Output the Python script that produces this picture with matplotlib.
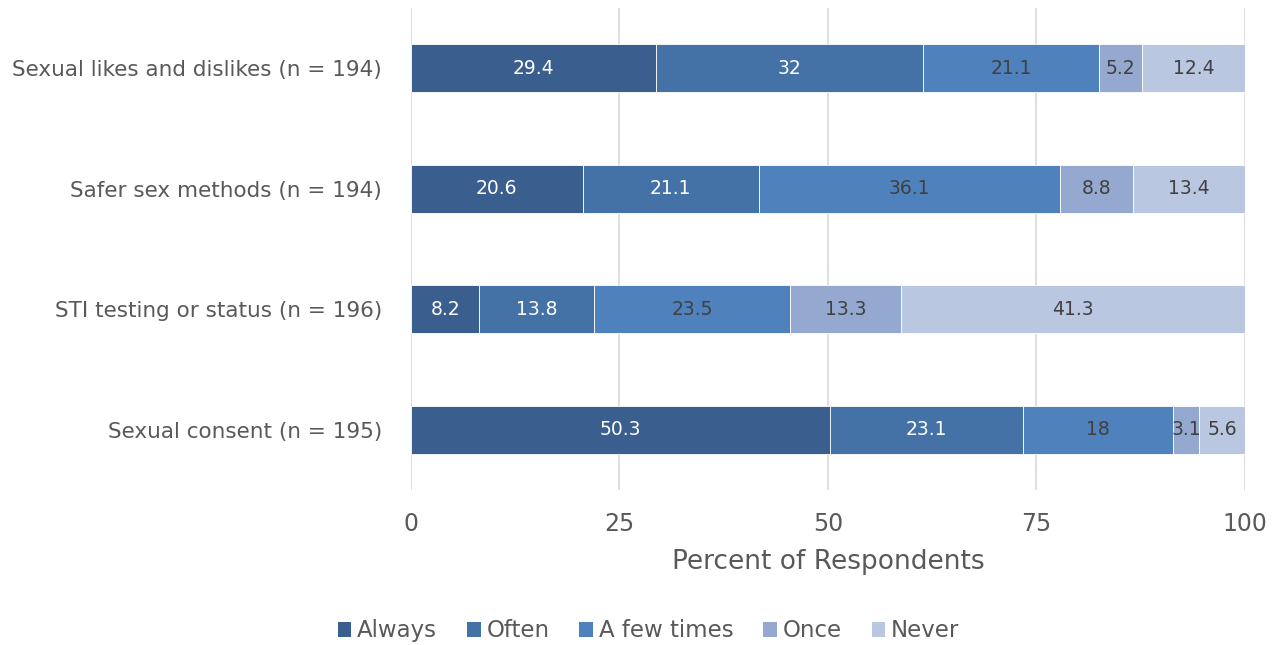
import matplotlib.pyplot as plt
from matplotlib.patches import Patch

plt.rcParams['font.family'] = 'DejaVu Sans'

categories = ["Sexual likes and dislikes (n = 194)", "Safer sex methods (n = 194)",
              "STI testing or status (n = 196)", "Sexual consent (n = 195)"]
series_names = ["Always", "Often", "A few times", "Once", "Never"]
always = [29.4, 20.6, 8.2, 50.3]
often = [32, 21.1, 13.8, 23.1]
few_times = [21.1, 36.1, 23.5, 18]
once = [5.2, 8.8, 13.3, 3.1]
never = [12.4, 13.4, 41.3, 5.6]

colors = ['#3A5F8E', '#4472A6', '#4F81BD', '#95A9D0', '#BAC7E0']
label_colors = ['white', 'white', '#404040', '#404040', '#404040']

fig = plt.figure(figsize=(12.79, 6.45), dpi=100)
ax = fig.add_axes([0.3213, 0.2403, 0.6521, 0.7473])

ypos = [3 - i for i in range(len(categories))]
left = [0.0] * len(categories)
for vals, name, col, lc in zip([always, often, few_times, once, never],
                               series_names, colors, label_colors):
    bars = ax.barh(ypos, vals, left=left, height=0.4, color=col,
                   edgecolor='white', linewidth=0.6, label=name, zorder=3)
    ax.bar_label(bars, labels=[f"{v:g}" for v in vals], label_type='center',
                 color=lc, fontsize=13.5)
    left = [l + v for l, v in zip(left, vals)]

ax.set_xlim(0, 100)
ax.set_ylim(-0.5, 3.5)
ax.set_xticks([0, 25, 50, 75, 100])
ax.set_yticks(ypos)
ax.set_yticklabels(categories)
ax.tick_params(axis='x', length=0, labelsize=17, labelcolor='#595959', pad=16)
ax.tick_params(axis='y', length=0, labelsize=15.5, labelcolor='#595959', pad=21)
ax.grid(axis='x', color='#D9D9D9', linewidth=1.2, zorder=0)
for s in ax.spines.values():
    s.set_visible(False)
ax.set_xlabel("Percent of Respondents", fontsize=19, color='#595959', labelpad=9)

handles = [Patch(facecolor=c, edgecolor='none') for c in colors]
fig.legend(handles, series_names, loc='center', bbox_to_anchor=(0.507, 0.022),
           ncol=5, frameon=False, fontsize=16.5, labelcolor='#595959',
           handlelength=0.6, handleheight=0.6, handletextpad=0.25, columnspacing=1.3)

fig.savefig('out.png', dpi=100, facecolor='white')
